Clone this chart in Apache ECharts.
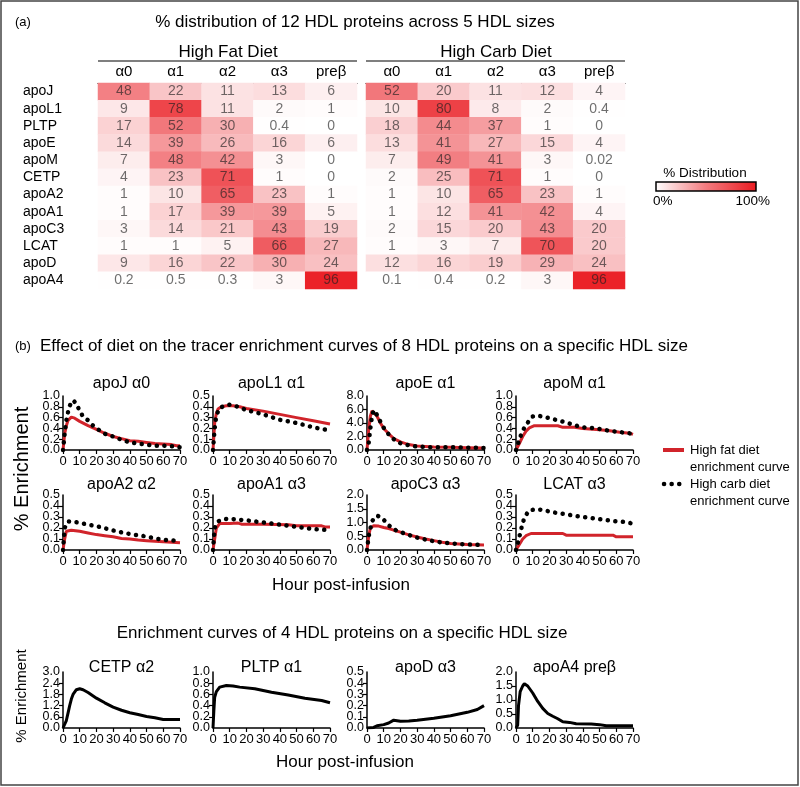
<!DOCTYPE html>
<html>
<head>
  <meta charset="utf-8">
</head>
<body style="margin: 0; background: #fff">
  <div id="container" style="width: 800px; height: 787px"></div>

  <script type="text/javascript" src="https://cdn.jsdelivr.net/npm/echarts@6/dist/echarts.min.js"></script>
  <script type="text/javascript">
    // (a) % distribution, rows = proteins, cols = HDL sizes
    var proteins = ['apoJ', 'apoL1', 'PLTP', 'apoE', 'apoM', 'CETP', 'apoA2', 'apoA1', 'apoC3', 'LCAT', 'apoD', 'apoA4'];
    var hdlSizes = ['α0', 'α1', 'α2', 'α3', 'preβ'];
    var fatDist = [
      [48, 22, 11, 13, 6],
      [9, 78, 11, 2, 1],
      [17, 52, 30, 0.4, 0],
      [14, 39, 26, 16, 6],
      [7, 48, 42, 3, 0],
      [4, 23, 71, 1, 0],
      [1, 10, 65, 23, 1],
      [1, 17, 39, 39, 5],
      [3, 14, 21, 43, 19],
      [1, 1, 5, 66, 27],
      [9, 16, 22, 30, 24],
      [0.2, 0.5, 0.3, 3, 96]
    ];
    var carbDist = [
      [52, 20, 11, 12, 4],
      [10, 80, 8, 2, 0.4],
      [18, 44, 37, 1, 0],
      [13, 41, 27, 15, 4],
      [7, 49, 41, 3, 0.02],
      [2, 25, 71, 1, 0],
      [1, 10, 65, 23, 1],
      [1, 12, 41, 42, 4],
      [2, 15, 20, 43, 20],
      [1, 3, 7, 70, 20],
      [12, 16, 19, 29, 24],
      [0.1, 0.4, 0.2, 3, 96]
    ];

    // (b) enrichment curves, [hour, % enrichment]
    var apoJ_fat = [[0,0],[1,0.3],[2,0.45],[3,0.55],[5,0.61],[7,0.59],[10,0.53],[15,0.45],[20,0.38],[25,0.31],[30,0.25],[35,0.21],[40,0.17],[45,0.16],[50,0.14],[55,0.12],[60,0.11],[65,0.1],[68,0.08],[70,0.08]];
    var apoJ_carb = [[0,0],[1,0.3],[2,0.55],[3,0.7],[4,0.82],[6,0.92],[8,0.86],[10,0.72],[12,0.62],[15,0.55],[18,0.45],[21,0.38],[25,0.3],[30,0.25],[35,0.19],[40,0.14],[45,0.12],[50,0.1],[55,0.08],[60,0.08],[65,0.07],[70,0.05]];
    var apoL1_fat = [[0,0],[1,0.25],[2,0.34],[3,0.38],[5,0.4],[8,0.41],[12,0.41],[16,0.4],[20,0.385],[30,0.36],[40,0.33],[50,0.3],[60,0.27],[70,0.24]];
    var apoL1_carb = [[0,0],[1,0.2],[2,0.32],[4,0.39],[7,0.41],[10,0.42],[15,0.4],[20,0.37],[30,0.33],[40,0.28],[50,0.25],[60,0.21],[70,0.18]];
    var apoE_fat = [[0,0],[1,3.0],[2,5.0],[3,5.8],[4,5.9],[6,5.0],[8,4.0],[10,3.2],[13,2.4],[16,1.7],[20,1.2],[25,0.8],[30,0.6],[40,0.45],[50,0.4],[60,0.35],[70,0.3]];
    var apoE_carb = [[0,0],[1,1.0],[2,3.2],[3,5.0],[4,5.9],[6,5.2],[8,4.2],[10,3.3],[13,2.3],[16,1.6],[20,1.0],[25,0.7],[30,0.5],[40,0.4],[50,0.4],[60,0.35],[70,0.3]];
    var apoM_fat = [[0,0],[2,0.12],[4,0.25],[6,0.35],[8,0.41],[11,0.45],[20,0.45],[25,0.45],[28,0.42],[35,0.42],[40,0.4],[48,0.38],[55,0.36],[62,0.33],[68,0.31],[70,0.29]];
    var apoM_carb = [[0,0],[2,0.2],[4,0.36],[6,0.46],[8,0.55],[10,0.62],[12,0.64],[16,0.62],[20,0.59],[25,0.55],[30,0.51],[35,0.46],[40,0.42],[45,0.41],[50,0.39],[55,0.36],[60,0.34],[65,0.32],[70,0.3]];
    var apoA2_fat = [[0,0],[1,0.1],[2,0.17],[5,0.18],[10,0.17],[15,0.155],[20,0.14],[25,0.13],[30,0.12],[35,0.105],[40,0.1],[45,0.09],[50,0.085],[55,0.08],[60,0.075],[65,0.07],[70,0.065]];
    var apoA2_carb = [[0,0],[1,0.2],[3,0.26],[7,0.255],[12,0.24],[17,0.225],[22,0.21],[27,0.19],[32,0.17],[37,0.155],[42,0.14],[47,0.13],[52,0.115],[57,0.1],[62,0.09],[67,0.085],[70,0.08]];
    var apoA1_fat = [[0,0],[1,0.1],[2,0.2],[4,0.24],[10,0.24],[15,0.245],[17,0.235],[30,0.235],[45,0.23],[50,0.22],[65,0.22],[67,0.21],[70,0.21]];
    var apoA1_carb = [[0,0],[1,0.2],[3,0.26],[6,0.28],[10,0.285],[15,0.275],[20,0.27],[25,0.26],[30,0.25],[35,0.24],[40,0.23],[45,0.22],[50,0.21],[55,0.2],[60,0.19],[65,0.185],[70,0.18]];
    var apoC3_fat = [[0,0],[1,0.5],[2,0.8],[4,0.88],[7,0.87],[10,0.82],[13,0.78],[16,0.72],[20,0.65],[25,0.55],[30,0.47],[35,0.4],[40,0.34],[45,0.28],[50,0.24],[55,0.22],[60,0.2],[65,0.19],[70,0.18]];
    var apoC3_carb = [[0,0],[1,0.5],[3,1.05],[6,1.25],[8,1.2],[10,1.1],[13,0.9],[16,0.75],[20,0.65],[25,0.55],[30,0.45],[35,0.38],[40,0.32],[45,0.27],[50,0.24],[55,0.22],[60,0.2],[65,0.19],[70,0.18]];
    var lcat_fat = [[0,0],[2,0.05],[4,0.1],[6,0.13],[9,0.15],[20,0.15],[28,0.15],[30,0.135],[45,0.135],[58,0.135],[60,0.12],[70,0.12]];
    var lcat_carb = [[0,0],[2,0.12],[3,0.18],[4,0.25],[6,0.32],[8,0.36],[12,0.37],[16,0.365],[20,0.35],[25,0.335],[30,0.325],[35,0.31],[40,0.3],[45,0.29],[50,0.28],[55,0.27],[60,0.26],[65,0.255],[70,0.24]];

    var cetp_a2 = [[0,0],[1,0.1],[2,0.4],[3,0.8],[4,1.2],[5,1.55],[6,1.8],[8,2.05],[10,2.1],[12,2.05],[15,1.9],[20,1.6],[25,1.35],[30,1.12],[35,0.95],[40,0.82],[45,0.72],[50,0.62],[55,0.55],[60,0.46],[65,0.45],[70,0.45]];
    var pltp_a1 = [[0,0],[0.5,0.3],[1,0.55],[2,0.65],[4,0.73],[8,0.76],[12,0.75],[16,0.73],[25,0.7],[35,0.64],[45,0.59],[55,0.53],[65,0.49],[70,0.45]];
    var apoD_a3 = [[0,0],[4,0.005],[6,0.02],[10,0.03],[13,0.045],[16,0.07],[18,0.065],[20,0.06],[25,0.062],[30,0.07],[40,0.088],[50,0.11],[60,0.14],[66,0.165],[70,0.2]];
    var apoA4_preb = [[0,0],[1,0.1],[1.5,0.8],[2.5,1.3],[4,1.5],[5,1.58],[7,1.5],[10,1.25],[13,0.95],[16,0.7],[19,0.52],[22,0.42],[25,0.33],[28,0.22],[32,0.2],[36,0.15],[45,0.14],[50,0.12],[54,0.08],[70,0.08]];

    // one entry per small plot (y axis max / tick step)
    var panels = [
      { title: 'apoJ α0', fat: apoJ_fat, carb: apoJ_carb, max: 1, step: 0.2 },
      { title: 'apoL1 α1', fat: apoL1_fat, carb: apoL1_carb, max: 0.5, step: 0.1 },
      { title: 'apoE α1', fat: apoE_fat, carb: apoE_carb, max: 8, step: 2 },
      { title: 'apoM α1', fat: apoM_fat, carb: apoM_carb, max: 1, step: 0.2 },
      { title: 'apoA2 α2', fat: apoA2_fat, carb: apoA2_carb, max: 0.5, step: 0.1 },
      { title: 'apoA1 α3', fat: apoA1_fat, carb: apoA1_carb, max: 0.5, step: 0.1 },
      { title: 'apoC3 α3', fat: apoC3_fat, carb: apoC3_carb, max: 2, step: 0.5 },
      { title: 'LCAT α3', fat: lcat_fat, carb: lcat_carb, max: 0.5, step: 0.1 },
      { title: 'CETP α2', only: cetp_a2, max: 3, step: 0.6 },
      { title: 'PLTP α1', only: pltp_a1, max: 1, step: 0.2 },
      { title: 'apoD α3', only: apoD_a3, max: 0.5, step: 0.1 },
      { title: 'apoA4 preβ', only: apoA4_preb, max: 2, step: 0.5 }
    ];

    var FONT = 'Liberation Sans, Arial, sans-serif';
    var RED = '#d1242b';
    var colLeft = [63, 213, 367, 516];
    var plotW = 117;
    var rowTop = [396, 495, 672];
    var rowH = [54, 55, 56];
    var titleTop = [376, 477, 660];

    var dom = document.getElementById('container');
    var myChart = echarts.init(dom, null, { renderer: 'canvas' });

    function cells(dist) {
      var out = [];
      dist.forEach(function (row, r) {
        row.forEach(function (v, c) { out.push([c, r, v]); });
      });
      return out;
    }

    var grids = [
      { left: 98, top: 83, width: 259, height: 206 },
      { left: 366, top: 83, width: 259, height: 206 }
    ];
    var xAxes = [];
    var yAxes = [];
    var titles = [];
    var series = [];

    [0, 1].forEach(function (g) {
      xAxes.push({
        type: 'category', gridIndex: g, data: hdlSizes, position: 'top',
        axisLine: { show: true, lineStyle: { color: '#000', width: 1.2 } },
        axisTick: { show: false },
        axisLabel: { color: '#000', fontSize: 15, margin: 4, interval: 0, fontFamily: FONT },
        splitLine: { show: false }
      });
      yAxes.push({
        type: 'category', gridIndex: g, data: proteins, inverse: true,
        axisLine: { show: false }, axisTick: { show: false },
        axisLabel: { show: g === 0, interval: 0, hideOverlap: false, color: '#000', fontSize: 14, align: 'left', margin: 75, fontFamily: FONT },
        splitLine: { show: false }
      });
      series.push({
        type: 'heatmap', xAxisIndex: g, yAxisIndex: g,
        data: cells(g === 0 ? fatDist : carbDist),
        label: {
          show: true, fontSize: 14, fontFamily: FONT, color: 'rgba(30,30,30,0.65)',
          formatter: function (p) { return String(p.value[2]); }
        },
        emphasis: { disabled: true }
      });
    });

    var yLabelStyle = { color: '#000', fontSize: 12.5, margin: 3, fontFamily: FONT };

    panels.forEach(function (p, i) {
      var row = Math.floor(i / 4), col = i % 4;
      var gi = grids.length;
      grids.push({ left: colLeft[col], top: rowTop[row], width: plotW, height: rowH[row] });
      xAxes.push({
        type: 'value', gridIndex: gi, min: 0, max: 70, interval: 10,
        axisLine: { show: true, lineStyle: { color: '#000', width: 1.5 } },
        axisTick: { show: true, length: 4, lineStyle: { color: '#000', width: 1.2 } },
        axisLabel: { color: '#000', fontSize: 13, margin: 5, fontFamily: FONT, showMinLabel: true, showMaxLabel: true },
        splitLine: { show: false }
      });
      // inner tick labels (the crowded ones)
      var yi = yAxes.length;
      yAxes.push({
        type: 'value', gridIndex: gi, min: 0, max: p.max, interval: p.step,
        axisLine: { show: true, lineStyle: { color: '#000', width: 1.5 } },
        axisTick: { show: true, length: 4, lineStyle: { color: '#000', width: 1.2 } },
        axisLabel: Object.assign({}, yLabelStyle, {
          showMinLabel: false, showMaxLabel: false,
          formatter: function (v) { return v.toFixed(1); }
        }),
        splitLine: { show: false }
      });
      // end labels (0.0 and max) on a twin axis so they are not dropped
      yAxes.push({
        type: 'value', gridIndex: gi, min: 0, max: p.max, interval: p.step, position: 'left', offset: 0,
        axisLine: { show: false }, axisTick: { show: false },
        axisLabel: Object.assign({}, yLabelStyle, {
          showMinLabel: true, showMaxLabel: true,
          formatter: function (v) {
            return (v === 0 || Math.abs(v - p.max) < 1e-9) ? v.toFixed(1) : '';
          }
        }),
        splitLine: { show: false }
      });
      titles.push({
        text: p.title, left: colLeft[col] + plotW / 2, top: titleTop[row], textAlign: 'center', padding: 0,
        textStyle: { fontSize: 16, fontWeight: 'normal', color: '#000', fontFamily: FONT }
      });
      if (p.only) {
        series.push({
          type: 'line', name: p.title, xAxisIndex: gi, yAxisIndex: yi, data: p.only,
          showSymbol: false, lineStyle: { color: '#000', width: 3 }, silent: true
        });
      } else {
        series.push({
          type: 'line', name: 'High fat diet', xAxisIndex: gi, yAxisIndex: yi, data: p.fat,
          showSymbol: false, lineStyle: { color: RED, width: 3 }, silent: true
        });
        series.push({
          type: 'line', name: 'High carb diet', xAxisIndex: gi, yAxisIndex: yi, data: p.carb,
          showSymbol: false, lineStyle: { color: '#000', width: 4.5, type: [0.1, 7.5], cap: 'round' }, silent: true
        });
      }
    });

    function txt(x, y, s, size, align, extra) {
      var o = {
        type: 'text', x: x, y: y, silent: true,
        style: { text: s, font: size + 'px ' + FONT, fill: '#000', textAlign: align || 'left', textVerticalAlign: 'middle' }
      };
      if (extra) { for (var k in extra) o[k] = extra[k]; }
      return o;
    }

    var graphics = [
      { type: 'rect', silent: true, shape: { x: 1, y: 1, width: 797, height: 784 }, style: { fill: 'none', stroke: '#444', lineWidth: 1.5 } },
      txt(15, 22, '(a)', 13),
      txt(355, 22, '% distribution of 12 HDL proteins across 5 HDL sizes', 17, 'center'),
      txt(228, 52, 'High Fat Diet', 17, 'center'),
      txt(496, 52, 'High Carb Diet', 17, 'center'),
      { type: 'line', silent: true, shape: { x1: 98, y1: 61, x2: 357, y2: 61 }, style: { stroke: '#000', lineWidth: 1.2 } },
      { type: 'line', silent: true, shape: { x1: 366, y1: 61, x2: 625, y2: 61 }, style: { stroke: '#000', lineWidth: 1.2 } },
      // colour scale
      txt(705, 173, '% Distribution', 13.5, 'center'),
      {
        type: 'rect', silent: true, shape: { x: 656, y: 182, width: 100, height: 9 },
        style: {
          stroke: '#000', lineWidth: 1.5,
          fill: new echarts.graphic.LinearGradient(0, 0, 1, 0, [
            { offset: 0, color: '#ffffff' }, { offset: 0.5, color: '#f27b7f' }, { offset: 1, color: '#ea1a20' }
          ])
        }
      },
      txt(653, 201, '0%', 13.5),
      txt(770, 201, '100%', 13.5, 'right'),
      // panel b
      txt(15, 346, '(b)', 13),
      txt(40, 346, 'Effect of diet on the tracer enrichment curves of 8 HDL proteins on a specific HDL size', 17),
      txt(0, 0, '% Enrichment', 20, 'center', { x: 22, y: 469, rotation: Math.PI / 2 }),
      txt(341, 585, 'Hour post-infusion', 17, 'center'),
      { type: 'line', silent: true, shape: { x1: 663, y1: 450, x2: 684, y2: 450 }, style: { stroke: RED, lineWidth: 4 } },
      { type: 'line', silent: true, shape: { x1: 664, y1: 484, x2: 684, y2: 484 }, style: { stroke: '#000', lineWidth: 4.5, lineDash: [0.1, 7.5], lineCap: 'round' } },
      txt(690, 450, 'High fat diet', 13),
      txt(690, 467, 'enrichment curve', 13),
      txt(690, 484, 'High carb diet', 13),
      txt(690, 501, 'enrichment curve', 13),
      // bottom block
      txt(342, 633, 'Enrichment curves of 4 HDL proteins on a specific HDL size', 17, 'center'),
      txt(0, 0, '% Enrichment', 15, 'center', { x: 22, y: 696, rotation: Math.PI / 2 }),
      txt(345, 762, 'Hour post-infusion', 17, 'center')
    ];

    var option = {
      animation: false,
      backgroundColor: '#fff',
      textStyle: { fontFamily: FONT },
      title: titles,
      grid: grids,
      xAxis: xAxes,
      yAxis: yAxes,
      visualMap: {
        show: false, min: 0, max: 100, seriesIndex: [0, 1],
        inRange: { color: ['#ffffff', '#f27b7f', '#ea1a20'] }
      },
      graphic: graphics,
      series: series
    };

    myChart.setOption(option);
    window.addEventListener('resize', myChart.resize);
  </script>
</body>
</html>
